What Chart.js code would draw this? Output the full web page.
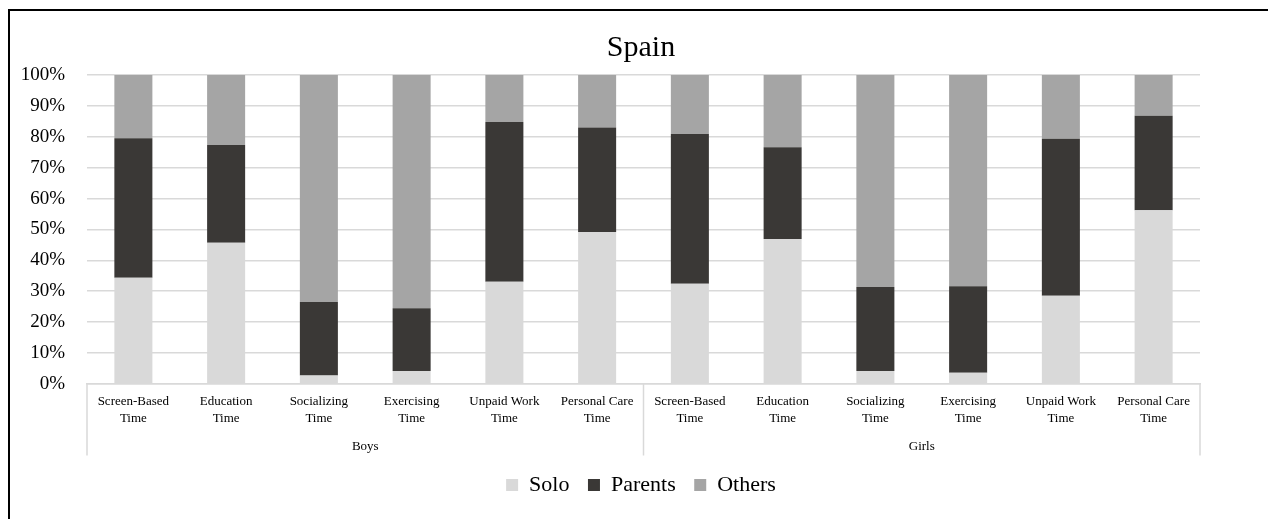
<!DOCTYPE html>
<html>
<head>
<meta charset="utf-8">
<title>Spain</title>
<script src="https://cdn.jsdelivr.net/npm/chart.js@4.4.1/dist/chart.umd.min.js"></script>
<style>
  html, body { margin: 0; padding: 0; background: #fff; overflow: hidden; }
  .frame {
    position: absolute; left: 8px; top: 9px;
    width: 2000px; height: 2000px;
    border: 2px solid #000;
  }
  .chart-box { position: absolute; left: 0; top: 0; width: 1268px; height: 519px; }
</style>
</head>
<body>
<div class="frame"></div>
<div class="chart-box"><canvas id="company-chart"></canvas></div>
<script>
const activities = [
  ['Screen-Based', 'Time'],
  ['Education', 'Time'],
  ['Socializing', 'Time'],
  ['Exercising', 'Time'],
  ['Unpaid Work', 'Time'],
  ['Personal Care', 'Time'],
];
const groups = ['Boys', 'Girls'];
const yTicks = [0, 10, 20, 30, 40, 50, 60, 70, 80, 90, 100];

// share of time (%) spent alone, with parents, with others
const soloBoys = [34.4, 45.7, 2.7, 4.2, 33.1, 49.2];
const parentsBoys = [45.1, 31.6, 23.8, 20.3, 51.7, 33.8];
const othersBoys = [20.5, 22.7, 73.5, 75.5, 15.2, 17.0];

const soloGirls = [32.4, 46.9, 4.2, 3.6, 28.5, 56.2];
const parentsGirls = [48.5, 29.7, 27.2, 28.0, 50.9, 30.6];
const othersGirls = [19.1, 23.4, 68.6, 68.4, 20.6, 13.2];

const serif = "'Liberation Serif', 'Times New Roman', serif";
const gridColor = '#d9d9d9';

// vertical separators under the plot: left edge, between groups, right edge
const groupDividers = {
  id: 'groupDividers',
  afterDraw(chart) {
    const x = chart.scales.x;
    const group = chart.scales.group;
    const ctx = chart.ctx;
    const half = activities.length;
    const mid = (x.getPixelForTick(half - 1) + x.getPixelForTick(half)) / 2;
    ctx.save();
    ctx.strokeStyle = gridColor;
    ctx.lineWidth = 1.5;
    [x.left, mid, x.right].forEach((px) => {
      ctx.beginPath();
      ctx.moveTo(px, chart.chartArea.bottom);
      ctx.lineTo(px, group.bottom);
      ctx.stroke();
    });
    ctx.restore();
  },
};

const labels = [...activities, ...activities];

new Chart(document.getElementById('company-chart'), {
  type: 'bar',
  data: {
    labels,
    datasets: [
      { label: 'Solo', data: [...soloBoys, ...soloGirls], backgroundColor: '#d9d9d9' },
      { label: 'Parents', data: [...parentsBoys, ...parentsGirls], backgroundColor: '#3a3836' },
      { label: 'Others', data: [...othersBoys, ...othersGirls], backgroundColor: '#a5a5a5' },
    ],
  },
  options: {
    responsive: true,
    maintainAspectRatio: false,
    animation: false,
    layout: { padding: { left: 14, right: 0, top: 0, bottom: 13 } },
    datasets: { bar: { categoryPercentage: 1, barPercentage: 0.41 } },
    scales: {
      x: {
        stacked: true,
        afterFit(scale) { scale.height = 44; },
        grid: { display: false, drawTicks: false },
        border: { display: true, color: gridColor, width: 1.5 },
        ticks: {
          color: '#000',
          padding: 9.5,
          maxRotation: 0,
          autoSkip: false,
          font: { family: serif, size: 13, lineHeight: 1.3 },
        },
      },
      group: {
        type: 'category',
        axis: 'x',
        position: 'bottom',
        weight: 1,
        labels: groups,
        offset: true,
        afterFit(scale) { scale.height = 27.6; },
        grid: { display: false, drawTicks: false },
        border: { display: false },
        ticks: {
          color: '#000',
          padding: 10.2,
          maxRotation: 0,
          font: { family: serif, size: 13, lineHeight: 1.3 },
        },
      },
      y: {
        stacked: true,
        min: 0,
        max: 100,
        afterFit(scale) { scale.width = 73; },
        afterBuildTicks(scale) { scale.ticks = yTicks.map((v) => ({ value: v })); },
        grid: { color: gridColor, lineWidth: 1.5, drawTicks: false },
        border: { display: false },
        ticks: {
          color: '#000',
          padding: 22,
          font: { family: serif, size: 19 },
          callback: (v) => v + '%',
        },
      },
      // blank right margin so title and legend stay centred on the page
      spacer: {
        type: 'linear',
        axis: 'y',
        position: 'right',
        afterFit(scale) { scale.width = 68; },
        grid: { display: false, drawTicks: false },
        border: { display: false },
        ticks: { display: false },
      },
    },
    plugins: {
      title: {
        display: true,
        text: 'Spain',
        color: '#000',
        font: { family: serif, size: 30, weight: 'normal', lineHeight: 1.2 },
        padding: { top: 30, bottom: 9 },
      },
      legend: {
        position: 'bottom',
        labels: {
          color: '#000',
          boxWidth: 12,
          boxHeight: 12,
          padding: 18.5,
          font: { family: serif, size: 22 },
        },
      },
      tooltip: { enabled: false },
    },
  },
  plugins: [groupDividers],
});
</script>
</body>
</html>
